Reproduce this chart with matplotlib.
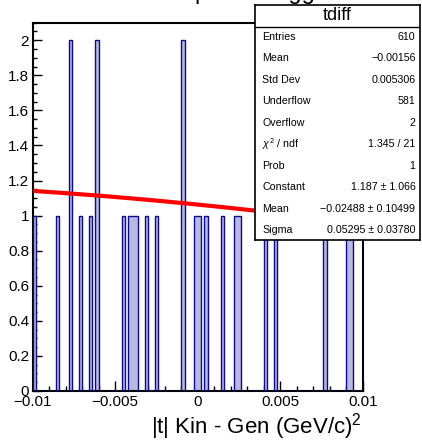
import numpy as np
import matplotlib
matplotlib.use("Agg")
import matplotlib.pyplot as plt
from matplotlib.ticker import MultipleLocator

plt.rcParams['font.family'] = ['Liberation Sans', 'DejaVu Sans']
plt.rcParams['mathtext.fontset'] = 'custom'
plt.rcParams['mathtext.rm'] = 'Liberation Sans'
plt.rcParams['mathtext.it'] = 'Liberation Sans:italic'

# histogram "tdiff": 100 bins between -0.01 and 0.01
n_bins = 100
x_min, x_max = -0.01, 0.01
filled_bins = [0, 7, 11, 14, 17, 19, 27, 29, 30, 31, 34, 37, 45, 49, 50, 52,
               57, 61, 62, 70, 73, 88, 95, 96]
bin_counts = [1, 1, 2, 1, 1, 2, 1, 1, 1, 1, 1, 1, 2, 1, 1, 1,
              1, 1, 1, 1, 1, 1, 1, 1]

# gaus fit
fit_constant = 1.187
fit_mean = -0.02488
fit_sigma = 0.05295

stat_names = ["Entries", "Mean", "Std Dev", "Underflow", "Overflow",
              r"$\chi^{2}$ / ndf", "Prob", "Constant", "Mean", "Sigma"]
stat_values = ["610", "\u22120.00156", "0.005306", "581", "2", "1.345 / 21", "1",
               "1.187 \u00b1 1.066", "\u22120.02488 \u00b1 0.10499", "0.05295 \u00b1 0.03780"]

x_ticks = [-0.01, -0.005, 0, 0.005, 0.01]
x_tick_labels = ["\u22120.01", "\u22120.005", "0", "0.005", "0.01"]
y_ticks = [0, 0.2, 0.4, 0.6, 0.8, 1.0, 1.2, 1.4, 1.6, 1.8, 2.0]
y_tick_labels = ["0", "0.2", "0.4", "0.6", "0.8", "1", "1.2", "1.4", "1.6", "1.8", "2"]

counts = np.zeros(n_bins)
counts[filled_bins] = bin_counts
edges = np.linspace(x_min, x_max, n_bins + 1)

W, H = 422, 442
fig = plt.figure(figsize=(W / 100, H / 100), dpi=100)

# title, mostly above the canvas (only descenders show)
fig.text(195 / W, 1 + 0.5 / H, "proton tagged", fontsize=17, ha='left', va='baseline')

ax = fig.add_axes([32.5 / W, 1 - 391 / H, (363 - 32.5) / W, (391 - 22.7) / H])
ax.stairs(counts, edges, fill=True, facecolor='#b8b8e0', linewidth=0, zorder=2)
ax.stairs(counts, edges, baseline=0, color='#0a0a96', linewidth=1.0, zorder=3)

xf = np.linspace(x_min, x_max, 300)
ax.plot(xf, fit_constant * np.exp(-0.5 * ((xf - fit_mean) / fit_sigma) ** 2),
        color='red', linewidth=3, zorder=4)

ax.set_xlim(x_min, x_max)
ax.set_ylim(0, 2.1)
ax.set_xticks(x_ticks, x_tick_labels, fontsize=11)
ax.set_yticks(y_ticks, y_tick_labels, fontsize=11)
ax.xaxis.set_minor_locator(MultipleLocator(0.001))
ax.yaxis.set_minor_locator(MultipleLocator(0.05))
ax.tick_params(which='both', direction='in', top=False, right=False, width=1.0)
ax.tick_params(axis='x', which='major', length=7, pad=3)
ax.tick_params(axis='x', which='minor', length=3.5)
ax.tick_params(axis='y', which='major', length=6.5, pad=2.5)
ax.tick_params(axis='y', which='minor', length=3.2)
for s in ax.spines.values():
    s.set_linewidth(1.5)

fig.text(362 / W, 1 - 434 / H, "|t| Kin - Gen (GeV/c)$^{2}$", fontsize=16,
         ha='right', va='baseline')

# stats box
sax = fig.add_axes([255 / W, 1 - 240 / H, (420 - 255) / W, (240 - 5) / H])
sax.set_xlim(255, 420)
sax.set_ylim(240, 5)
sax.set_xticks([])
sax.set_yticks([])
sax.set_facecolor('white')
for s in sax.spines.values():
    s.set_linewidth(1.2)
sax.axhline(26.7, color='black', linewidth=1.0)
sax.text(337, 16, "tdiff", fontsize=13, ha='center', va='center')
row_y = np.linspace(36.7, 230, len(stat_names))
for y, name, val in zip(row_y, stat_names, stat_values):
    sax.text(262.5, y, name, fontsize=7.7, ha='left', va='center')
    sax.text(415.5, y, val, fontsize=7.7, ha='right', va='center')

fig.savefig("out.png", dpi=100)
